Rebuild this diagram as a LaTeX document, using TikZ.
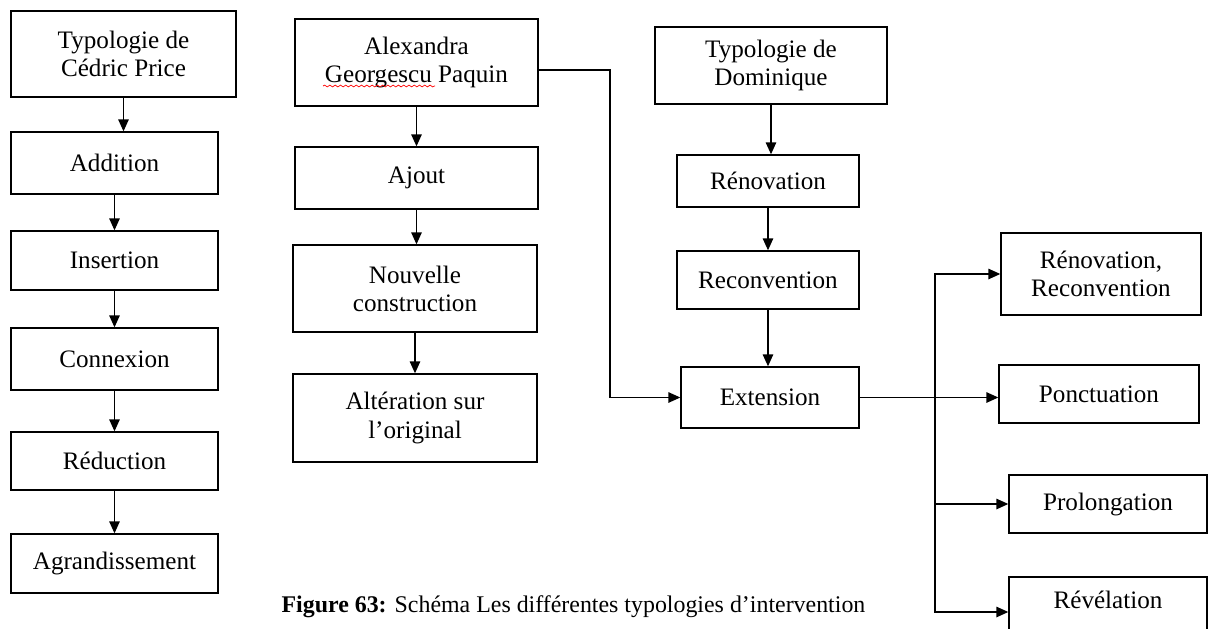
\documentclass[tikz,border=0pt]{standalone}
\usepackage{fontspec}
\setmainfont{Liberation Serif}
\usetikzlibrary{arrows.meta, decorations.pathmorphing}

\begin{document}
\begin{tikzpicture}[x=0.02cm, y=-0.02cm,
	box/.style={draw, line width=0.8pt, align=center, inner sep=2pt, font=\fontsize{14.3}{16}\selectfont},
	arr/.style={line width=0.8pt, -{Triangle[length=2.4mm, width=2.1mm]}}]
	\useasboundingbox (0,0) rectangle (1208,629);
	\clip (0,0) rectangle (1208,629);

	\node[box, minimum width=4.5cm, minimum height=1.72cm] (cedric) at (123.5,54) {Typologie de\\Cédric Price};
	\node[box, minimum width=4.14cm, minimum height=1.24cm] (addition) at (114.5,163) {Addition};
	\node[box, minimum width=4.14cm, minimum height=1.18cm] (insertion) at (114.5,260.5) {Insertion};
	\node[box, minimum width=4.14cm, minimum height=1.24cm] (connexion) at (114.5,359) {Connexion};
	\node[box, minimum width=4.14cm, minimum height=1.16cm] (reduction) at (114.5,461) {Réduction};
	\node[box, minimum width=4.14cm, minimum height=1.18cm] (agrand) at (114.5,563.5) {Agrandissement};
	\foreach \a/\b in {cedric/addition, addition/insertion, insertion/connexion, connexion/reduction, reduction/agrand}
		\draw[arr] (\a.south) -- (\a.south |- \b.north);

	\node[box, minimum width=4.86cm, minimum height=1.74cm] (alex) at (416.5,62.5) {Alexandra\\Georgescu Paquin};
	\draw[red, decorate, decoration={snake, amplitude=0.5pt, segment length=3pt}] (323,86) -- (435,86);
	\node[box, minimum width=4.86cm, minimum height=1.24cm] (ajout) at (416.5,178) {Ajout};
	\node[box, minimum width=4.88cm, minimum height=1.74cm] (nouvelle) at (415,288.5) {Nouvelle\\construction};
	\node[box, minimum width=4.88cm, minimum height=1.76cm] (alteration) at (415,418) {Altération sur\\l’original};
	\foreach \a/\b in {alex/ajout, ajout/nouvelle, nouvelle/alteration}
		\draw[arr] (\a.south) -- (\a.south |- \b.north);

	\node[box, minimum width=4.64cm, minimum height=1.54cm] (dominique) at (771,65.5) {Typologie de\\Dominique};
	\node[box, minimum width=3.64cm, minimum height=1.04cm] (renovation) at (768,181) {Rénovation};
	\node[box, minimum width=3.64cm, minimum height=1.16cm] (reconvention) at (768,280) {Reconvention};
	\node[box, minimum width=3.56cm, minimum height=1.22cm] (ext) at (770,397.5) {Extension};
	\foreach \a/\b in {dominique/renovation, renovation/reconvention, reconvention/ext}
		\draw[arr] (\a.south) -- (\a.south |- \b.north);

	\coordinate (turn) at (610,0);
	\draw[arr] ([yshift=-0.15cm]alex.east) -| (turn |- ext.west) -- (ext.west);

	\node[box, minimum width=4cm, minimum height=1.64cm] (renrec) at (1101,274) {Rénovation,\\Reconvention};
	\node[box, minimum width=4cm, minimum height=1.16cm] (ponct) at (1099,394) {Ponctuation};
	\node[box, minimum width=3.96cm, minimum height=1.16cm] (prolong) at (1108,504) {Prolongation};
	\node[box, minimum width=3.96cm, minimum height=1.4cm, text depth=0.5cm] (revel) at (1108,612) {Révélation};

	\coordinate (fork) at (935,397.5);
	\draw[arr] (ext.east) -- (ext.east -| ponct.west);
	\draw[arr] (fork) |- (renrec.west);
	\draw[arr] (fork) |- (prolong.west);
	\draw[arr] (fork) |- (revel.west);

	\node[font=\fontsize{13.6}{15}\selectfont] (caption) at (573.5,607) {\textbf{Figure 63:} Schéma Les différentes typologies d’intervention};
\end{tikzpicture}
\end{document}
